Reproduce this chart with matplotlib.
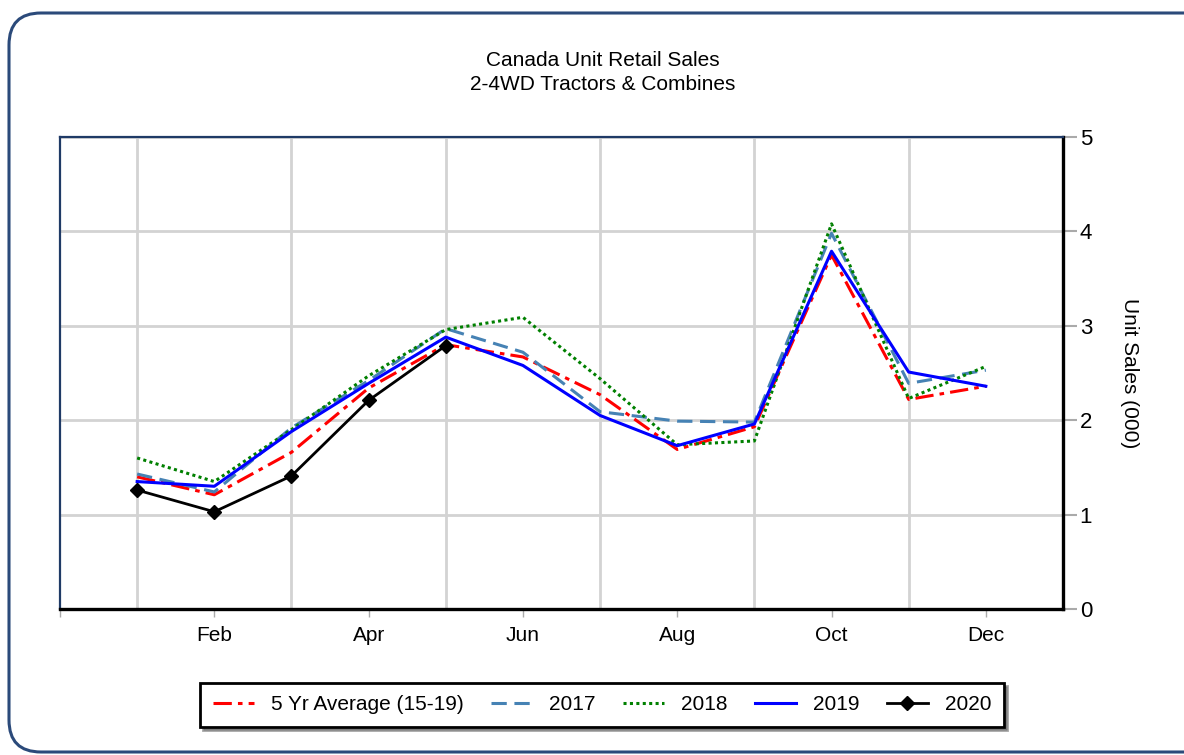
import matplotlib
matplotlib.use("Agg")
import matplotlib.pyplot as plt
from matplotlib.patches import FancyBboxPatch
from matplotlib.transforms import IdentityTransform
import matplotlib.patheffects as pe

plt.rcParams["font.family"] = ["Liberation Sans", "DejaVu Sans"]

# unidades (000) por mes
months = list(range(1, 13))
tick_pos = [2, 4, 6, 8, 10, 12]
tick_lbl = ["Feb", "Apr", "Jun", "Aug", "Oct", "Dec"]

avg5 = [1.40, 1.21, 1.66, 2.34, 2.80, 2.67, 2.27, 1.69, 1.93, 3.75, 2.22, 2.36]
y2017 = [1.43, 1.24, 1.92, 2.42, 2.97, 2.72, 2.09, 1.99, 1.98, 3.98, 2.39, 2.53]
y2018 = [1.60, 1.35, 1.90, 2.47, 2.96, 3.09, 2.44, 1.74, 1.78, 4.08, 2.23, 2.57]
y2019 = [1.35, 1.30, 1.88, 2.39, 2.88, 2.58, 2.05, 1.73, 1.96, 3.79, 2.51, 2.36]
m2020 = [1, 2, 3, 4, 5]
y2020 = [1.26, 1.03, 1.41, 2.21, 2.79]

fig = plt.figure(figsize=(11.84, 7.55), dpi=100)

# borde redondeado exterior
border = FancyBboxPatch((9, 3), 1230, 739, boxstyle="round,pad=0,rounding_size=32",
                        transform=IdentityTransform(), fc="white", ec="#2b4a7a", lw=2.2, zorder=-5)
fig.patches.append(border)

ax = fig.add_axes([60 / 1184, 1 - 609 / 755, 1003 / 1184, 472 / 755])

ax.plot(months, avg5, color="red", lw=2.2, dashes=(6, 2, 1.5, 2), label="5 Yr Average (15-19)")
ax.plot(months, y2017, color="#4682b4", lw=2.2, dashes=(5, 2.5), label="2017")
ax.plot(months, y2018, color="green", lw=2.2, linestyle=(0, (1, 1.1)), label="2018")
ax.plot(months, y2019, color="blue", lw=2.2, label="2019")
ax.plot(m2020, y2020, color="black", lw=2.0, marker="D", ms=7, label="2020")

ax.set_xlim(0, 13)
ax.set_ylim(0, 5)
ax.set_xticks(months, minor=True)
ax.set_xticks([0] + tick_pos)
ax.set_xticklabels([""] + tick_lbl, fontsize=15)
ax.tick_params(axis="x", which="major", length=6, color="#aaaaaa", width=1, pad=6)
ax.tick_params(axis="x", which="minor", length=0)
ax.grid(True, which="minor", axis="x", color="#d3d3d3", lw=2)
ax.set_yticks([0, 1, 2, 3, 4, 5])
ax.grid(True, which="major", axis="y", color="#d3d3d3", lw=2)
ax.yaxis.tick_right()
ax.yaxis.set_label_position("right")
ax.tick_params(axis="y", length=10, color="#aaaaaa", width=1.5, labelsize=16, pad=2)
ax.set_ylabel("Unit Sales (000)", rotation=270, fontsize=15, labelpad=34)
ax.set_axisbelow(True)

for s in ["left", "top"]:
    ax.spines[s].set_color("#1f3a66")
    ax.spines[s].set_linewidth(1.6)
for s in ["bottom", "right"]:
    ax.spines[s].set_color("black")
    ax.spines[s].set_linewidth(2.4)
    ax.spines[s].set_path_effects([pe.SimplePatchShadow(offset=(2, -3), shadow_rgbFace="#999999", alpha=0.5), pe.Normal()])

fig.text(603 / 1184, 1 - 60 / 755, "Canada Unit Retail Sales", ha="center", va="center", fontsize=15)
fig.text(603 / 1184, 1 - 84 / 755, "2-4WD Tractors & Combines", ha="center", va="center", fontsize=15)

leg = fig.legend(loc="center", bbox_to_anchor=(602 / 1184, 1 - 705 / 755), ncol=5, fontsize=15,
                 frameon=True, fancybox=False, shadow=True, handlelength=2.0, columnspacing=1.3,
                 borderpad=0.6, handletextpad=0.8)
leg.get_frame().set_edgecolor("black")
leg.get_frame().set_linewidth(2)

fig.savefig("out.png", dpi=100)
